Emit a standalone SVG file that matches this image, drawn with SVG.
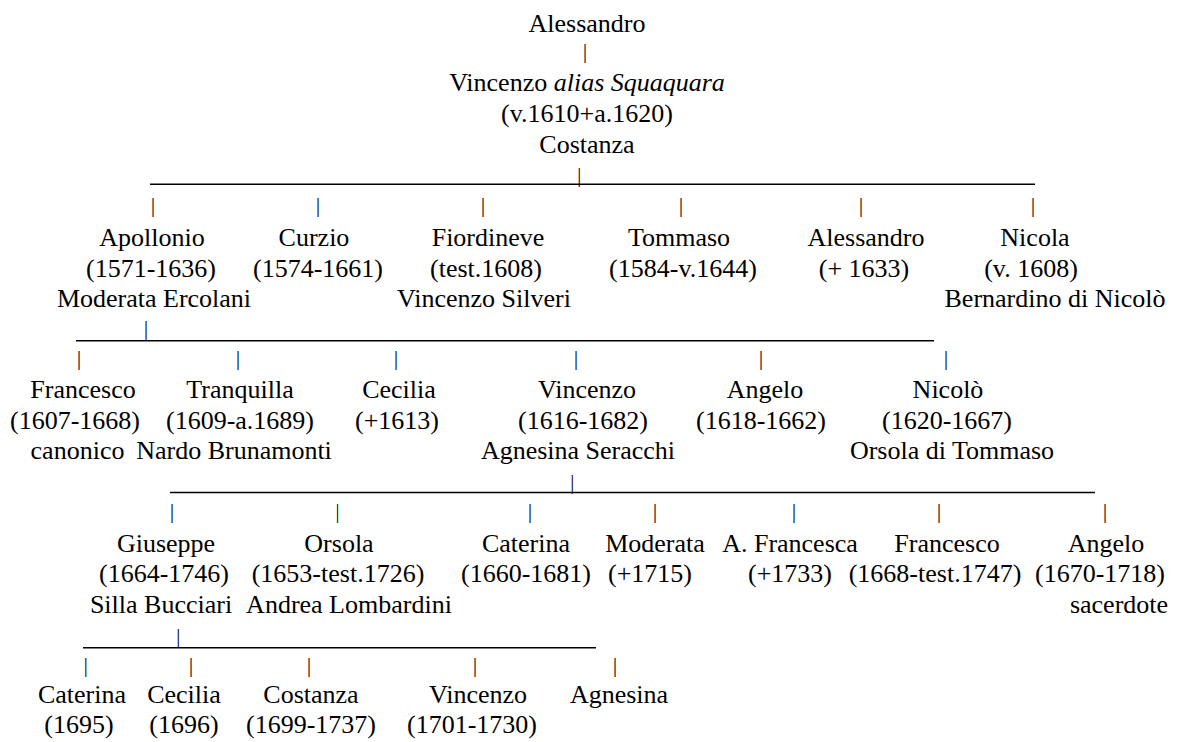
<svg xmlns="http://www.w3.org/2000/svg" width="1184" height="742" viewBox="0 0 1184 742">
<style>
.t{font-size:26px;fill:#000;text-anchor:middle}
.p{font-size:20px;fill:#000;text-anchor:middle}
.ln{stroke:#000;stroke-width:1.4;fill:none}
</style>
<rect width="1184" height="742" fill="#fff"/>
<g font-family="Liberation Serif">
<g id="connectors">
  <line class="ln" x1="150" y1="184.3" x2="1035" y2="184.3"/>
  <line class="ln" x1="76" y1="340.7" x2="934" y2="340.7"/>
  <line class="ln" x1="170" y1="492.5" x2="1095" y2="492.5"/>
  <line class="ln" x1="83" y1="647.7" x2="596" y2="647.7"/>
  <text class="p" x="585" y="58.3">|</text>
  <text class="p" x="579.3" y="181.6">|</text>
  <text class="p" x="153" y="211.6">|</text>
  <text class="p" x="318" y="211.6">|</text>
  <text class="p" x="483" y="211.6">|</text>
  <text class="p" x="681" y="211.6">|</text>
  <text class="p" x="861" y="211.6">|</text>
  <text class="p" x="1033" y="211.6">|</text>
  <text class="p" x="146" y="335">|</text>
  <text class="p" x="79" y="364.6">|</text>
  <text class="p" x="238" y="364.6">|</text>
  <text class="p" x="396" y="364.6">|</text>
  <text class="p" x="576" y="364.6">|</text>
  <text class="p" x="761" y="364.6">|</text>
  <text class="p" x="946" y="364.6">|</text>
  <text class="p" x="572.3" y="489.3">|</text>
  <text class="p" x="172" y="518.3">|</text>
  <text class="p" x="337.5" y="518.3">|</text>
  <text class="p" x="530" y="518.3">|</text>
  <text class="p" x="655" y="518.3">|</text>
  <text class="p" x="794" y="518.3">|</text>
  <text class="p" x="939" y="518.3">|</text>
  <text class="p" x="1105" y="518.3">|</text>
  <text class="p" x="178.3" y="643.3">|</text>
  <text class="p" x="85.7" y="671.6">|</text>
  <text class="p" x="191" y="671.6">|</text>
  <text class="p" x="309" y="671.6">|</text>
  <text class="p" x="475" y="671.6">|</text>
  <text class="p" x="615" y="671.6">|</text>
</g>
<g id="n-alessandro-root"><text class="t" x="587" y="31.7">Alessandro</text></g>
<g id="n-vincenzo-squaquara">
  <text class="t" x="587" y="90.5">Vincenzo <tspan font-style="italic">alias Squaquara</tspan></text>
  <text class="t" x="587" y="121.6">(v.1610+a.1620)</text>
  <text class="t" x="587" y="152.7">Costanza</text>
</g>
<g id="n-apollonio">
  <text class="t" x="152" y="246">Apollonio</text>
  <text class="t" x="151" y="276.5">(1571-1636)</text>
  <text class="t" x="154" y="306.7">Moderata Ercolani</text>
</g>
<g id="n-curzio">
  <text class="t" x="314" y="246">Curzio</text>
  <text class="t" x="318" y="276.5">(1574-1661)</text>
</g>
<g id="n-fiordineve">
  <text class="t" x="488" y="246">Fiordineve</text>
  <text class="t" x="486" y="276.5">(test.1608)</text>
  <text class="t" x="484" y="306.7">Vincenzo Silveri</text>
</g>
<g id="n-tommaso">
  <text class="t" x="679" y="246">Tommaso</text>
  <text class="t" x="683" y="276.5">(1584-v.1644)</text>
</g>
<g id="n-alessandro">
  <text class="t" x="866" y="246">Alessandro</text>
  <text class="t" x="864" y="276.5">(+ 1633)</text>
</g>
<g id="n-nicola">
  <text class="t" x="1035" y="246">Nicola</text>
  <text class="t" x="1031" y="276.5">(v. 1608)</text>
  <text class="t" x="1055" y="306.7">Bernardino di Nicolò</text>
</g>
<g id="n-francesco">
  <text class="t" x="83" y="398.3">Francesco</text>
  <text class="t" x="75" y="428.5">(1607-1668)</text>
  <text class="t" x="77.5" y="458.5">canonico</text>
</g>
<g id="n-tranquilla">
  <text class="t" x="240" y="398.3">Tranquilla</text>
  <text class="t" x="240" y="428.5">(1609-a.1689)</text>
  <text class="t" x="234" y="458.5">Nardo Brunamonti</text>
</g>
<g id="n-cecilia">
  <text class="t" x="399" y="398.3">Cecilia</text>
  <text class="t" x="397" y="428.5">(+1613)</text>
</g>
<g id="n-vincenzo">
  <text class="t" x="587" y="398.3">Vincenzo</text>
  <text class="t" x="583" y="428.5">(1616-1682)</text>
  <text class="t" x="578" y="458.5">Agnesina Seracchi</text>
</g>
<g id="n-angelo">
  <text class="t" x="765" y="398.3">Angelo</text>
  <text class="t" x="761" y="428.5">(1618-1662)</text>
</g>
<g id="n-nicolo">
  <text class="t" x="948" y="398.3">Nicolò</text>
  <text class="t" x="947" y="428.5">(1620-1667)</text>
  <text class="t" x="952" y="458.5">Orsola di Tommaso</text>
</g>
<g id="n-giuseppe">
  <text class="t" x="166" y="551.5">Giuseppe</text>
  <text class="t" x="164" y="582">(1664-1746)</text>
  <text class="t" x="161" y="613">Silla Bucciari</text>
</g>
<g id="n-orsola">
  <text class="t" x="339" y="551.5">Orsola</text>
  <text class="t" x="338" y="582">(1653-test.1726)</text>
  <text class="t" x="349" y="613">Andrea Lombardini</text>
</g>
<g id="n-caterina">
  <text class="t" x="526" y="551.5">Caterina</text>
  <text class="t" x="526" y="582">(1660-1681)</text>
</g>
<g id="n-moderata">
  <text class="t" x="655" y="551.5">Moderata</text>
  <text class="t" x="650" y="582">(+1715)</text>
</g>
<g id="n-afrancesca">
  <text class="t" x="790" y="551.5">A. Francesca</text>
  <text class="t" x="790" y="582">(+1733)</text>
</g>
<g id="n-francesco2">
  <text class="t" x="947" y="551.5">Francesco</text>
  <text class="t" x="935" y="582">(1668-test.1747)</text>
</g>
<g id="n-angelo2">
  <text class="t" x="1106" y="551.5">Angelo</text>
  <text class="t" x="1100" y="582">(1670-1718)</text>
  <text class="t" x="1119" y="613">sacerdote</text>
</g>
<g id="n-caterina2">
  <text class="t" x="82" y="702.5">Caterina</text>
  <text class="t" x="79" y="732.5">(1695)</text>
</g>
<g id="n-cecilia2">
  <text class="t" x="184" y="702.5">Cecilia</text>
  <text class="t" x="184" y="732.5">(1696)</text>
</g>
<g id="n-costanza">
  <text class="t" x="311" y="702.5">Costanza</text>
  <text class="t" x="311" y="732.5">(1699-1737)</text>
</g>
<g id="n-vincenzo2">
  <text class="t" x="478" y="702.5">Vincenzo</text>
  <text class="t" x="472" y="732.5">(1701-1730)</text>
</g>
<g id="n-agnesina">
  <text class="t" x="619" y="702.5">Agnesina</text>
</g>
</g>
</svg>
